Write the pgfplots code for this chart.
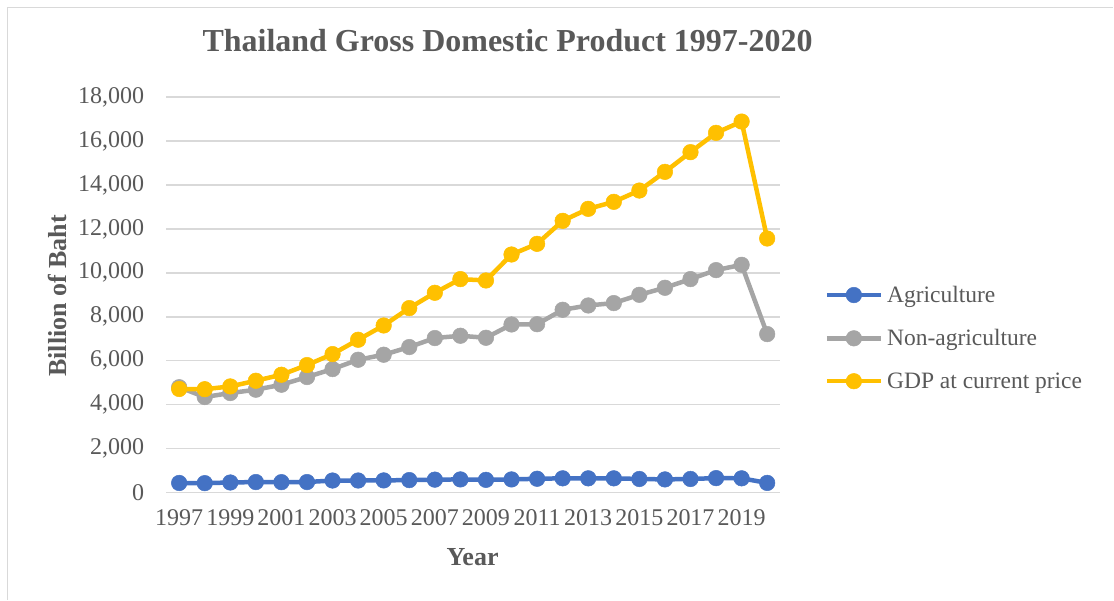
\documentclass[border=0pt]{standalone}
\usepackage{pgfplots}
\pgfplotsset{compat=1.18}
\usepackage{fontspec}
\setmainfont{Liberation Serif}
\definecolor{cblue}{HTML}{4472C4}
\definecolor{cgray}{HTML}{A5A5A5}
\definecolor{cyellow}{HTML}{FFC000}
\definecolor{txt}{HTML}{595959}
\definecolor{gridc}{HTML}{D9D9D9}
\begin{document}
\begin{tikzpicture}[x=1pt,y=1pt]
\path[fill=white] (0,0) rectangle (1114,600);
\draw[gridc, line width=1.5pt] (7.5,0) -- (7.5,592.5) -- (1114,592.5);
\begin{axis}[
  at={(166.5pt,107.3pt)}, anchor=south west,
  scale only axis, width=614pt, height=395.4pt,
  xmin=1996.5, xmax=2020.5, ymin=0, ymax=18000,
  xtick={1997,1999,...,2019},
  ytick={0,2000,...,18000},
  scaled y ticks=false,
  major tick length=0pt,
  axis line style={draw=none},
  xmajorgrids=false, ymajorgrids=true, major grid style={color=gridc, line width=1.5pt},
  tick label style={font=\fontsize{24}{28}\selectfont, text=txt},
  /pgf/number format/assume math mode=true,
  xticklabel style={/pgf/number format/1000 sep={}, inner sep=0pt, anchor=north, yshift=-17pt},
  yticklabel style={/pgf/number format/fixed, /pgf/number format/1000 sep={,}, inner sep=0pt, anchor=east, xshift=-22pt},
  title={Thailand Gross Domestic Product 1997-2020},
  title style={font=\fontsize{32}{38}\bfseries\selectfont, text=txt, at={(rel axis cs:0.556,1.127)}, anchor=center},
  xlabel={Year},
  xlabel style={font=\fontsize{26}{30}\bfseries\selectfont, text=txt, at={(rel axis cs:0.499,-0.163)}, anchor=center},
  ylabel={Billion of Baht},
  ylabel style={font=\fontsize{26}{30}\bfseries\selectfont, text=txt, at={(rel axis cs:-0.1767,0.4975)}, anchor=center, rotate=0},
  legend style={draw=none, fill=none, at={(rel axis cs:1.0676,0.530)}, anchor=north west,
    font=\fontsize{23.5}{28}\selectfont, text=txt, row sep=23.5pt,
    nodes={inner sep=1pt},
    /tikz/every odd column/.append style={column sep=3pt}},
  legend cell align=left,
  legend image code/.code={\draw[mark repeat=2,mark phase=2,#1] plot coordinates {(0pt,0pt) (27pt,0pt) (54pt,0pt)};},
  every axis plot/.append style={line width=4.5pt, mark=*, mark size=7.8pt, mark options={line width=0.5pt}},
  clip=false,
]
\addplot[color=cblue] coordinates {
(1997,428) (1998,420) (1999,450) (2000,470) (2001,465) (2002,470) (2003,540) (2004,540)
(2005,545) (2006,560) (2007,580) (2008,590) (2009,570) (2010,590) (2011,620) (2012,640)
(2013,640) (2014,640) (2015,610) (2016,590) (2017,610) (2018,650) (2019,640) (2020,430)};
\addlegendentry{Agriculture}
\addplot[color=cgray] coordinates {
(1997,4790) (1998,4343) (1999,4525) (2000,4676) (2001,4904) (2002,5254) (2003,5618) (2004,6042)
(2005,6270) (2006,6620) (2007,7030) (2008,7134) (2009,7043) (2010,7649) (2011,7660) (2012,8318)
(2013,8514) (2014,8623) (2015,9000) (2016,9320) (2017,9716) (2018,10125) (2019,10366) (2020,7211)};
\addlegendentry{Non-agriculture}
\addplot[color=cyellow] coordinates {
(1997,4710) (1998,4700) (1999,4826) (2000,5085) (2001,5358) (2002,5800) (2003,6300) (2004,6952)
(2005,7603) (2006,8395) (2007,9092) (2008,9716) (2009,9652) (2010,10836) (2011,11322) (2012,12370)
(2013,12916) (2014,13235) (2015,13750) (2016,14600) (2017,15498) (2018,16377) (2019,16892) (2020,11565)};
\addlegendentry{GDP at current price}
\end{axis}
\end{tikzpicture}
\end{document}
